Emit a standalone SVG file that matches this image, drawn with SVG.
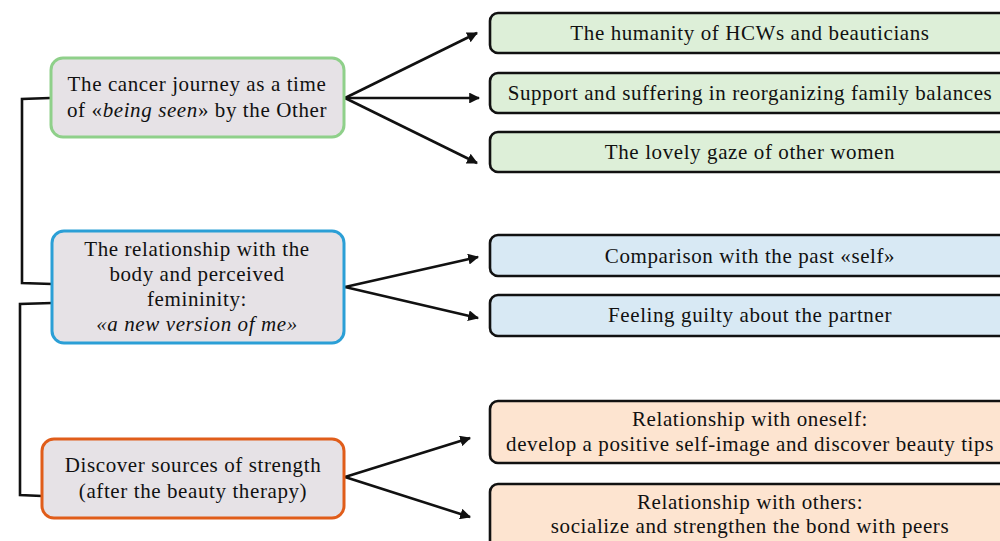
<svg xmlns="http://www.w3.org/2000/svg" width="1000" height="541" viewBox="0 0 1000 541">
<style>
text{font-family:"Liberation Serif","DejaVu Serif",serif;font-size:21px;letter-spacing:0.6px;fill:#111;text-anchor:middle}
.main{fill:#e6e2e6;stroke-width:3}
.sub{stroke:#111;stroke-width:2.6}
.g{fill:#ddefd8}.b{fill:#d8e9f4}.o{fill:#fde4d0}
.con{fill:none;stroke:#111;stroke-width:2.6}
.it{font-style:italic}
</style>
<defs>
<marker id="ah" viewBox="0 0 10 10" refX="9" refY="5" markerWidth="4.2" markerHeight="4.2" orient="auto" markerUnits="strokeWidth">
<path d="M0,0 L10,5 L0,10 z" fill="#111"/>
</marker>
</defs>
<g id="connectors">
<path class="con" d="M50,98 L22,99 L22,283 L52,284"/>
<path class="con" d="M52,303 L20,304 L20,495 L42,496"/>
<path class="con" marker-end="url(#ah)" d="M345,98 L477,33"/>
<path class="con" marker-end="url(#ah)" d="M345,98 L479,98"/>
<path class="con" marker-end="url(#ah)" d="M345,98 L477,163"/>
<path class="con" marker-end="url(#ah)" d="M345,287 L478,257"/>
<path class="con" marker-end="url(#ah)" d="M345,287 L478,318"/>
<path class="con" marker-end="url(#ah)" d="M345,477 L470,438"/>
<path class="con" marker-end="url(#ah)" d="M345,477 L470,517"/>
</g>
<g id="n1">
<rect class="main" x="51" y="58" width="293" height="79" rx="12" stroke="#8fd08a"/>
<text x="197" y="91">The cancer journey as a time</text>
<text x="197" y="117">of «<tspan class="it">being seen</tspan>» by the Other</text>
</g>
<g id="n2">
<rect class="main" x="52" y="231" width="292" height="112" rx="12" stroke="#2b9fd6"/>
<text x="197" y="256">The relationship with the</text>
<text x="197" y="281">body and perceived</text>
<text x="197" y="306">femininity:</text>
<text x="197" y="331" class="it">«a new version of me»</text>
</g>
<g id="n3">
<rect class="main" x="42" y="439" width="302" height="79" rx="12" stroke="#e05d1a"/>
<text x="193" y="472">Discover sources of strength</text>
<text x="193" y="498">(after the beauty therapy)</text>
</g>
<g id="s1">
<rect class="sub g" x="490" y="13" width="520" height="40" rx="8"/>
<text x="750" y="40">The humanity of HCWs and beauticians</text>
</g>
<g id="s2">
<rect class="sub g" x="490" y="73" width="520" height="40" rx="8"/>
<text x="750" y="100">Support and suffering in reorganizing family balances</text>
</g>
<g id="s3">
<rect class="sub g" x="490" y="132" width="520" height="40" rx="8"/>
<text x="750" y="159">The lovely gaze of other women</text>
</g>
<g id="s4">
<rect class="sub b" x="490" y="235" width="520" height="41" rx="8"/>
<text x="750" y="263">Comparison with the past «self»</text>
</g>
<g id="s5">
<rect class="sub b" x="490" y="295" width="520" height="41" rx="8"/>
<text x="750" y="322">Feeling guilty about the partner</text>
</g>
<g id="s6">
<rect class="sub o" x="490" y="401" width="520" height="62" rx="8"/>
<text x="750" y="426">Relationship with oneself:</text>
<text x="750" y="451">develop a positive self-image and discover beauty tips</text>
</g>
<g id="s7">
<rect class="sub o" x="490" y="484" width="520" height="70" rx="8"/>
<text x="750" y="509">Relationship with others:</text>
<text x="750" y="533">socialize and strengthen the bond with peers</text>
</g>
</svg>
